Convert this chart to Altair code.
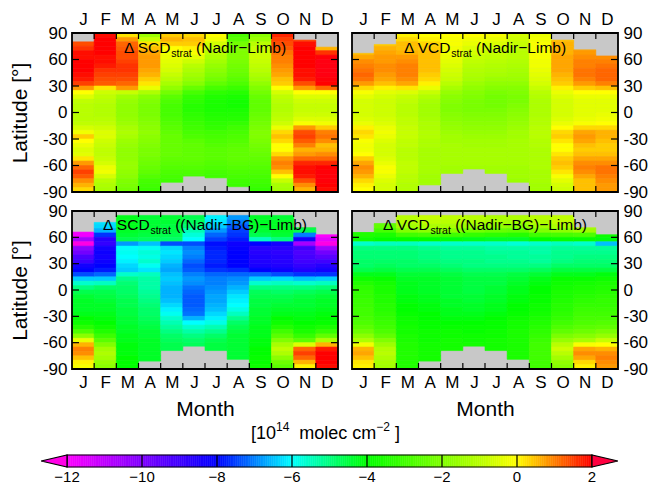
import altair as alt
import numpy as np
import pandas as pd

FONT = "Liberation Sans"
MONTHS = ["J", "F", "M", "A", "M", "J", "J", "A", "S", "O", "N", "D"]
LAT_LABELS = [-90, -60, -30, 0, 30, 60, 90]
LAT_INNER = [-60, -30, 0, 30, 60]
CB_TICKS = [-12, -10, -8, -6, -4, -2, 0, 2]

# colour scale (value -> colour)
COLOR_STOPS = [-12.7, -12, -11, -10, -9, -8, -7, -6, -5, -4, -3, -2, -1, 0, 0.5, 1, 1.5, 2, 2.7]
COLOR_HEX = ["#ff00c0", "#ff00ff", "#c000ff", "#8000ff", "#4000ff", "#0000ff", "#0080ff",
             "#00ffff", "#00ff80", "#00ff00", "#40ff00", "#80ff00", "#b8ff00", "#ffff00",
             "#ffc000", "#ff8000", "#ff4000", "#ff0000", "#ff0040"]

# Each month: 36 values for 5-degree latitude bins, from 90..85 (north) down to -85..-90 (south)
N = None
SCD_NL = [
    [N, N, 1.4, 1.6, 1.9, 1.9, 2.0, 2.0, 2.0, 1.9, 1.8, 1.5, 0.8, 0.0, -0.5, -0.9, -1.0, -1.0,
     -1.0, -1.0, -0.9, -0.6, -0.2, 0.4, 0.0, -0.3, -0.5, -0.4, 0.2, 0.8, 1.2, 1.5, 1.3, 0.9, 0.6, 0.3],
    [1.9, 2.0, 2.0, 2.0, 2.0, 1.9, 1.9, 1.8, 1.6, 1.5, 1.4, 1.3, 0.2, -0.7, -0.9, -1.0, -1.1, -1.1,
     -1.1, -1.0, -0.9, -0.7, -0.5, -0.5, -0.7, -0.8, -0.9, -0.9, -0.8, -0.6, -0.3, -0.2, -0.6, -1.0, -1.2, -1.3],
    [0.2, 0.8, 1.2, 1.3, 1.4, 1.4, 1.5, 1.6, 1.6, 1.5, 1.4, 1.2, 0.8, -0.8, -1.4, -1.6, -1.7, -1.7,
     -1.7, -1.6, -1.5, -1.3, -1.2, -1.3, -1.5, -1.6, -1.7, -1.7, -1.7, -1.6, -1.6, -1.7, -1.8, -2.0, -2.1, -2.2],
    [-1.5, -0.8, 0.2, 0.5, 0.7, 0.8, 0.8, 0.8, 0.7, 0.6, 0.4, 0.2, -0.3, -1.2, -1.8, -2.0, -2.1, -2.1,
     -2.1, -2.0, -1.9, -1.8, -1.7, -1.8, -1.9, -2.0, -2.1, -2.1, -2.2, -2.3, -2.4, -2.5, -2.7, -2.9, -3.0, -3.1],
    [0.4, 0.6, 0.4, 0.0, -0.2, -0.3, -0.4, -0.5, -0.6, -0.8, -1.0, -1.3, -1.7, -2.2, -2.6, -2.8, -2.9, -2.9,
     -2.9, -2.8, -2.7, -2.6, -2.5, -2.4, -2.4, -2.4, -2.4, -2.4, -2.5, -2.6, -2.7, -2.8, -2.9, -3.0, N, N],
    [0.3, 0.5, 0.4, 0.1, -0.1, -0.4, -0.7, -1.0, -1.2, -1.4, -1.6, -1.9, -2.4, -2.9, -3.2, -3.3, -3.4, -3.4,
     -3.3, -3.2, -3.1, -3.0, -2.9, -2.8, -2.6, -2.5, -2.5, -2.5, -2.5, -2.6, -2.7, -2.8, -2.9, N, N, N],
    [0.0, -0.2, -0.6, -0.8, -1.0, -1.2, -1.4, -1.6, -1.8, -2.0, -2.2, -2.5, -2.9, -3.3, -3.5, -3.6, -3.6, -3.6,
     -3.5, -3.4, -3.3, -3.2, -3.0, -2.9, -2.8, -2.7, -2.6, -2.6, -2.6, -2.7, -2.8, -2.9, -3.0, N, N, N],
    [-2.8, -2.6, -2.2, -2.0, -2.0, -2.0, -2.1, -2.2, -2.3, -2.4, -2.6, -2.8, -3.1, -3.4, -3.6, -3.7, -3.7, -3.6,
     -3.5, -3.4, -3.2, -3.0, -2.9, -2.8, -2.7, -2.6, -2.5, -2.5, -2.5, -2.6, -2.7, -2.8, -2.9, -3.0, -3.1, N],
    [-1.8, -1.5, -1.0, -0.8, -0.7, -0.7, -0.8, -0.9, -1.0, -1.2, -1.4, -1.7, -2.0, -2.2, -2.4, -2.5, -2.5, -2.5,
     -2.4, -2.3, -2.2, -2.1, -2.0, -2.0, -2.1, -2.2, -2.3, -2.4, -2.5, -2.6, -2.7, -2.8, -2.9, -3.0, -3.1, -3.2],
    [1.7, 1.5, 1.4, 1.3, 1.1, 1.0, 1.0, 0.9, 0.8, 0.7, 0.5, 0.4, 0.0, -0.6, -0.9, -1.0, -1.1, -1.1,
     -1.0, -0.9, -0.7, -0.3, 0.3, 0.5, 0.3, 0.0, 0.0, 0.3, 0.8, 1.0, 0.9, 0.5, 0.0, -0.8, -1.3, -1.4],
    [N, 1.5, 1.9, 2.0, 2.0, 2.0, 2.0, 2.0, 1.9, 1.9, 1.8, 1.4, 0.8, 0.0, -0.5, -0.7, -0.8, -0.8,
     -0.7, -0.5, -0.1, 0.8, 1.4, 1.5, 1.3, 1.0, 0.6, 0.8, 1.2, 1.7, 1.9, 1.9, 1.8, 1.4, 0.9, 0.6],
    [N, N, N, 0.6, 1.6, 2.1, 2.2, 2.2, 2.2, 2.2, 2.1, 2.0, 1.2, 0.0, -0.5, -0.7, -0.8, -0.8,
     -0.7, -0.5, -0.2, 0.4, 1.0, 1.1, 0.9, 0.5, 0.6, 0.9, 1.2, 1.7, 2.0, 2.1, 2.1, 2.1, 2.0, 1.9],
]
SCD_NL_NORTH = [80, 90, 90, 90, 90, 90, 90, 90, 90, 90, 82, 74]
SCD_NL_SOUTH = [-90, -90, -90, -90, -79, -72, -74, -84, -90, -90, -90, -90]

VCD_NL = [
    [N, N, N, N, 0.5, 0.7, 0.9, 1.0, 1.1, 1.2, 1.1, 0.8, 0.3, -0.1, -0.4, -0.6, -0.6, -0.6,
     -0.6, -0.5, -0.3, 0.1, 0.3, 0.2, -0.1, -0.2, -0.2, 0.0, 0.4, 0.7, 0.9, 0.8, 0.6, 0.3, 0.1, 0.0],
    [N, N, 0.4, 0.6, 0.7, 0.8, 0.8, 0.9, 0.9, 0.8, 0.7, 0.5, 0.1, -0.4, -0.6, -0.7, -0.7, -0.7,
     -0.7, -0.6, -0.5, -0.3, -0.2, -0.3, -0.5, -0.6, -0.6, -0.6, -0.5, -0.3, -0.1, -0.1, -0.3, -0.5, -0.6, -0.6],
    [0.1, 0.3, 0.5, 0.5, 0.6, 0.8, 0.9, 1.0, 1.0, 1.0, 0.9, 0.7, 0.2, -0.5, -0.8, -0.9, -1.0, -1.0,
     -1.0, -0.9, -0.9, -0.8, -0.8, -0.8, -0.9, -0.9, -1.0, -1.0, -1.0, -0.9, -0.9, -0.9, -1.0, -1.0, -1.1, -1.1],
    [0.0, 0.1, 0.3, 0.4, 0.5, 0.5, 0.5, 0.5, 0.5, 0.4, 0.3, 0.1, -0.3, -0.8, -1.1, -1.3, -1.4, -1.4,
     -1.4, -1.3, -1.2, -1.2, -1.1, -1.1, -1.2, -1.2, -1.3, -1.3, -1.3, -1.3, -1.3, -1.3, -1.4, -1.4, -1.4, N],
    [0.0, -0.1, -0.1, -0.2, -0.2, -0.3, -0.4, -0.5, -0.6, -0.7, -0.8, -1.0, -1.3, -1.6, -1.8, -1.9, -2.0, -2.0,
     -1.9, -1.8, -1.7, -1.6, -1.5, -1.4, -1.4, -1.3, -1.3, -1.3, -1.3, -1.3, -1.4, -1.4, N, N, N, N],
    [0.0, -0.2, -0.3, -0.5, -0.6, -0.8, -0.9, -1.0, -1.1, -1.2, -1.3, -1.5, -1.7, -1.9, -2.0, -2.1, -2.1, -2.1,
     -2.0, -1.9, -1.8, -1.7, -1.6, -1.5, -1.4, -1.4, -1.3, -1.3, -1.3, -1.3, -1.4, N, N, N, N, N],
    [-0.1, -0.3, -0.5, -0.7, -0.8, -0.9, -1.0, -1.1, -1.2, -1.3, -1.5, -1.7, -1.9, -2.1, -2.2, -2.2, -2.2, -2.1,
     -2.0, -1.9, -1.8, -1.7, -1.6, -1.5, -1.4, -1.4, -1.3, -1.3, -1.3, -1.3, -1.4, -1.4, N, N, N, N],
    [-0.6, -0.7, -0.8, -0.9, -1.0, -1.0, -1.1, -1.2, -1.3, -1.4, -1.5, -1.7, -1.9, -2.0, -2.1, -2.1, -2.0, -1.9,
     -1.8, -1.7, -1.6, -1.5, -1.4, -1.4, -1.3, -1.3, -1.3, -1.3, -1.3, -1.3, -1.4, -1.4, -1.4, -1.5, N, N],
    [-0.3, -0.2, -0.1, -0.1, -0.1, -0.1, -0.2, -0.2, -0.3, -0.4, -0.5, -0.6, -0.8, -1.0, -1.1, -1.2, -1.2, -1.2,
     -1.2, -1.1, -1.1, -1.0, -1.0, -1.0, -1.1, -1.1, -1.2, -1.2, -1.2, -1.2, -1.2, -1.3, -1.3, -1.3, -1.4, -1.4],
    [N, 0.5, 0.6, 0.6, 0.6, 0.7, 0.7, 0.7, 0.7, 0.6, 0.5, 0.4, 0.1, -0.3, -0.5, -0.6, -0.6, -0.6,
     -0.6, -0.5, -0.3, 0.0, 0.3, 0.4, 0.2, 0.0, 0.0, 0.2, 0.4, 0.5, 0.4, 0.2, -0.1, -0.4, -0.6, -0.7],
    [N, N, N, 0.7, 0.8, 0.9, 1.0, 1.0, 1.1, 1.1, 1.0, 0.8, 0.4, 0.0, -0.3, -0.4, -0.4, -0.4,
     -0.4, -0.3, -0.1, 0.3, 0.7, 0.8, 0.7, 0.5, 0.4, 0.5, 0.7, 0.9, 1.0, 0.9, 0.7, 0.5, 0.5, 0.5],
    [N, N, N, N, N, 0.9, 1.0, 1.1, 1.2, 1.2, 1.2, 1.0, 0.5, 0.0, -0.3, -0.4, -0.4, -0.4,
     -0.3, -0.2, 0.0, 0.3, 0.6, 0.6, 0.5, 0.4, 0.4, 0.5, 0.7, 0.9, 1.1, 1.1, 1.0, 0.9, 0.8, 0.8],
]
VCD_NL_NORTH = [67, 77, 90, 90, 90, 90, 90, 90, 90, 82, 71, 64]
VCD_NL_SOUTH = [-90, -90, -90, -82, -69, -64, -69, -79, -90, -90, -90, -90]

SCD_BG = [
    [N, N, N, N, -11.9, -11.8, -10.6, -12.3, -10.2, -9.8, -9.2, -8.9, -8.3, -8.0, -7.4, -6.4, -5.6, -5.0,
     -4.6, -4.4, -4.3, -4.3, -4.3, -4.2, -4.0, -3.8, -3.4, -2.8, -1.8, -0.3, 0.6, 1.0, 0.9, 0.5, 0.1, -0.1],
    [N, N, -6.2, -6.3, -6.6, -7.6, -8.6, -8.8, -8.3, -8.2, -8.3, -8.2, -8.0, -7.8, -7.2, -6.4, -5.5, -4.8,
     -4.6, -4.5, -4.4, -4.3, -4.3, -4.2, -4.1, -4.0, -3.8, -3.5, -3.1, -2.6, -2.0, -1.4, -1.2, -1.4, -1.6, -1.8],
    [N, -4.2, -4.2, -4.2, -4.3, -4.4, -4.6, -6.8, -6.0, -5.9, -6.0, -6.1, -6.3, -6.4, -5.6, -5.1, -4.9, -4.8,
     -4.8, -4.7, -4.6, -4.6, -4.5, -4.5, -4.4, -4.4, -4.3, -4.3, -4.2, -4.2, -4.1, -4.1, -4.1, -4.0, -4.0, -4.0],
    [N, -4.4, -4.4, -4.4, -4.4, -4.5, -4.7, -6.5, -5.9, -5.7, -5.8, -5.6, -5.9, -6.2, -5.5, -5.3, -5.3, -5.3,
     -5.2, -5.1, -5.0, -4.9, -4.8, -4.8, -4.7, -4.6, -4.5, -4.4, -4.4, -4.3, -4.3, -4.3, -4.3, -4.3, -4.3, N],
    [N, -4.4, -4.4, -4.5, -4.5, -4.6, -4.8, -7.4, -6.3, -6.2, -6.3, -6.4, -6.6, -6.7, -6.5, -6.4, -6.5, -6.6,
     -6.6, -6.6, -6.5, -6.3, -6.1, -5.9, -5.6, -5.4, -5.2, -5.0, -4.8, -4.7, -4.6, -4.6, N, N, N, N],
    [N, -4.6, -4.7, -4.9, -5.4, -5.7, -6.0, -7.4, -7.0, -6.9, -7.0, -7.2, -7.4, -7.3, -7.0, -6.8, -6.9, -7.1,
     -7.2, -7.3, -7.3, -7.3, -7.2, -7.1, -6.6, -6.0, -5.6, -5.3, -5.0, -4.8, -4.7, N, N, N, N, N],
    [N, -6.1, -6.2, -6.4, -6.8, -7.2, -7.5, -7.9, -7.8, -7.7, -7.7, -7.7, -7.8, -7.6, -7.2, -7.0, -7.0, -6.9,
     -6.8, -6.7, -6.7, -6.6, -6.5, -6.3, -6.1, -5.8, -5.4, -5.1, -4.8, -4.6, -4.5, -4.5, N, N, N, N],
    [N, -6.8, -7.0, -7.3, -7.5, -7.6, -7.8, -8.2, -8.1, -8.0, -8.0, -8.0, -8.0, -7.7, -7.2, -6.9, -6.8, -6.6,
     -6.4, -6.2, -6.1, -6.0, -5.8, -5.5, -5.1, -4.8, -4.6, -4.5, -4.4, -4.4, -4.4, -4.4, -4.4, -4.4, N, N],
    [N, -4.3, -4.3, -4.3, -4.4, -4.6, -5.5, -8.0, -8.6, -8.6, -8.5, -8.5, -8.4, -8.0, -7.2, -6.4, -5.6, -5.0,
     -4.7, -4.6, -4.5, -4.5, -4.4, -4.4, -4.3, -4.3, -4.2, -4.2, -4.2, -4.1, -4.1, -4.0, -4.0, -3.9, -3.9, -3.8],
    [N, -4.4, -4.3, -4.3, -4.3, -4.4, -5.0, -8.3, -8.6, -8.7, -8.6, -8.6, -8.5, -8.2, -7.4, -6.3, -5.5, -5.0,
     -4.8, -4.6, -4.5, -4.4, -4.3, -4.2, -4.0, -3.8, -3.5, -3.0, -2.6, -2.0, -1.3, -0.9, -1.2, -1.8, -2.3, -2.6],
    [N, N, N, -4.3, -4.6, -7.0, -8.3, -10.6, -9.0, -9.2, -9.1, -9.0, -8.8, -8.5, -7.6, -6.5, -5.6, -5.0,
     -4.7, -4.5, -4.4, -4.4, -4.3, -4.2, -4.1, -4.0, -3.8, -3.6, -3.2, -2.6, -0.5, 1.2, 1.5, 1.2, 0.6, 0.1],
    [N, N, N, N, N, -12.0, -11.6, -12.3, -10.5, -9.8, -9.4, -9.0, -8.6, -8.3, -7.6, -6.4, -5.5, -4.9,
     -4.6, -4.4, -4.3, -4.3, -4.2, -4.1, -4.0, -3.9, -3.6, -3.2, -2.5, -1.2, 0.6, 1.8, 2.0, 2.0, 2.0, 1.9],
]
SCD_BG_NORTH = [66, 77, 85, 85, 85, 85, 85, 85, 85, 85, 71, 63]
SCD_BG_SOUTH = [-90, -90, -90, -81, -69, -64, -69, -79, -90, -90, -90, -90]

VCD_BG = [
    [N, N, N, N, -3.5, -3.5, -3.8, -5.6, -5.0, -4.9, -4.9, -4.8, -4.8, -4.6, -4.2, -3.8, -3.5, -3.3,
     -3.2, -3.2, -3.1, -3.1, -3.0, -3.0, -2.9, -2.8, -2.6, -2.3, -1.8, -1.2, -0.2, 0.6, 0.7, 0.5, 0.2, 0.1],
    [N, N, -2.5, -2.5, -2.9, -3.6, -4.0, -5.5, -5.0, -4.9, -4.9, -4.8, -4.7, -4.5, -4.2, -3.9, -3.7, -3.6,
     -3.6, -3.5, -3.5, -3.4, -3.4, -3.3, -3.2, -3.1, -3.0, -2.8, -2.5, -2.0, -1.5, -1.1, -1.0, -1.2, -1.3, -1.4],
    [N, -1.0, -1.1, -1.4, -2.0, -3.0, -4.0, -5.5, -5.0, -4.9, -4.9, -4.8, -4.8, -4.6, -4.4, -4.3, -4.2, -4.2,
     -4.2, -4.1, -4.1, -4.0, -4.0, -3.9, -3.8, -3.8, -3.7, -3.7, -3.6, -3.6, -3.5, -3.5, -3.5, -3.5, -3.5, -3.5],
    [N, -0.8, -0.9, -1.2, -1.8, -2.9, -4.0, -5.6, -5.1, -5.0, -5.0, -4.9, -4.8, -4.6, -4.4, -4.3, -4.3, -4.3,
     -4.3, -4.2, -4.2, -4.1, -4.1, -4.0, -4.0, -3.9, -3.9, -3.8, -3.8, -3.8, -3.7, -3.7, -3.7, -3.7, -3.7, N],
    [N, -0.9, -1.0, -1.3, -1.9, -3.0, -4.1, -5.6, -5.2, -5.1, -5.1, -5.0, -4.9, -4.7, -4.5, -4.4, -4.4, -4.4,
     -4.4, -4.4, -4.3, -4.3, -4.2, -4.2, -4.1, -4.0, -3.9, -3.8, -3.8, -3.7, -3.7, -3.7, N, N, N, N],
    [N, -1.0, -1.1, -1.5, -2.2, -3.2, -4.2, -5.6, -5.2, -5.1, -5.1, -5.0, -5.0, -4.8, -4.6, -4.5, -4.5, -4.5,
     -4.5, -4.4, -4.4, -4.3, -4.3, -4.2, -4.1, -4.0, -3.9, -3.9, -3.8, -3.8, -3.7, N, N, N, N, N],
    [N, -1.2, -1.3, -1.7, -2.4, -3.3, -4.3, -5.6, -5.3, -5.2, -5.1, -5.1, -5.0, -4.8, -4.6, -4.5, -4.5, -4.4,
     -4.4, -4.3, -4.3, -4.2, -4.2, -4.1, -4.0, -3.9, -3.9, -3.8, -3.8, -3.7, -3.7, -3.7, N, N, N, N],
    [N, -1.2, -1.4, -1.8, -2.5, -3.4, -4.3, -5.7, -5.3, -5.2, -5.2, -5.1, -5.0, -4.8, -4.5, -4.4, -4.3, -4.2,
     -4.2, -4.1, -4.1, -4.0, -4.0, -3.9, -3.8, -3.7, -3.7, -3.6, -3.6, -3.6, -3.6, -3.6, -3.6, -3.6, N, N],
    [N, -1.0, -1.1, -1.4, -2.0, -3.0, -4.0, -5.6, -5.3, -5.3, -5.2, -5.2, -5.0, -4.7, -4.4, -4.2, -4.1, -4.0,
     -4.0, -3.9, -3.9, -3.8, -3.8, -3.7, -3.6, -3.5, -3.4, -3.3, -3.2, -3.1, -3.0, -3.0, -3.0, -3.0, -3.0, -3.0],
    [N, -0.9, -0.9, -1.2, -1.8, -2.9, -3.9, -5.5, -5.2, -5.1, -5.1, -5.0, -4.8, -4.5, -4.2, -3.9, -3.8, -3.7,
     -3.6, -3.6, -3.5, -3.4, -3.4, -3.3, -3.2, -3.0, -2.8, -2.5, -2.1, -1.6, -1.0, -0.7, -1.0, -1.4, -1.7, -1.9],
    [N, N, N, -1.2, -1.5, -2.8, -3.9, -5.6, -5.2, -5.1, -5.0, -4.9, -4.8, -4.5, -4.2, -3.9, -3.7, -3.6,
     -3.5, -3.4, -3.3, -3.2, -3.1, -3.0, -2.9, -2.8, -2.6, -2.3, -1.9, -1.3, -0.1, 0.7, 0.9, 0.7, 0.3, 0.1],
    [N, N, N, N, N, -3.8, -4.1, -6.5, -5.2, -5.1, -5.0, -4.9, -4.8, -4.5, -4.1, -3.8, -3.6, -3.5,
     -3.4, -3.3, -3.2, -3.2, -3.1, -3.0, -2.9, -2.7, -2.5, -2.1, -1.6, -0.8, 0.0, 0.6, 0.9, 1.0, 0.9, 0.8],
]
VCD_BG_NORTH = [65.5, 75.6, 85, 85, 85, 85, 85, 85, 85, 85, 71, 63]
VCD_BG_SOUTH = [-90, -90, -90, -81, -69, -64, -69, -79, -90, -90, -90, -90]

# ---------------------------------------------------------------- layout
W = 266
H_TOP = 159
H_BOT = 158
GRAY = "#c8c8c8"

ARIAL = {' ': 278, '(': 333, ')': 333, 'N': 722, 'a': 556, 'd': 556, 'i': 222, 'r': 333, 'L': 556,
         'm': 833, 'b': 556, 'B': 667, 'G': 778, 'S': 667, 'C': 722, 'D': 722, 'V': 667, 's': 500,
         't': 278, '−': 584, 'Δ': 668, '[': 278, ']': 278, 'o': 556, 'l': 222, 'e': 556, 'c': 500}


def tw(s, fs):
    return sum(ARIAL.get(ch, 556) for ch in s) * fs / 1000.0


ONE = pd.DataFrame({"k": [0]})
COLOR_SCALE = alt.Scale(domain=COLOR_STOPS, range=COLOR_HEX, clamp=True, nice=False, zero=False,
                        interpolate="rgb")


def build_df(vals, north, south):
    rows = []
    for m in range(12):
        col = vals[m]
        assert len(col) == 36, (m, len(col))
        for i, v in enumerate(col):
            if v is None:
                continue
            hi = min(90 - 5 * i, north[m])
            lo = max(85 - 5 * i, south[m])
            if hi <= lo:
                continue
            rows.append({"m0": m, "m1": m + 1, "lo": lo, "hi": hi, "v": v})
    return pd.DataFrame(rows)


def text_parts(parts, base_x, yb):
    """parts: list of (text, fontsize, dy), placed left to right from base_x."""
    layers = []
    x = base_x
    for t, fs, dy in parts:
        lead = len(t) - len(t.lstrip(" "))
        x += tw(" " * lead, fs)
        core = t.strip(" ")
        if core:
            layers.append(alt.Chart(ONE).mark_text(text=core, align="left", baseline="alphabetic",
                                                   font=FONT, fontSize=fs, color="black")
                          .encode(x=alt.value(x), y=alt.value(yb + dy)))
        x += tw(t.lstrip(" "), fs)
    return layers


def centered_parts(parts, cx, yb):
    total = sum(tw(t, fs) for t, fs, _ in parts)
    return text_parts(parts, cx - total / 2.0, yb)


def panel(vals, north, south, main, rest, top, left, H):
    df = build_df(vals, north, south)
    xs = alt.Scale(domain=[0, 12], nice=False, zero=False)
    ys = alt.Scale(domain=[-90, 90], nice=False, zero=False)
    x_axis = alt.Axis(orient="top" if top else "bottom",
                      values=[i + 0.5 for i in range(12)],
                      labelExpr="%s[floor(datum.value)]" % str(MONTHS),
                      ticks=False, domain=False, grid=False, labelAngle=0,
                      labelPadding=5, title=None if top else "Month", titlePadding=8)
    y_axis = alt.Axis(orient="left" if left else "right", values=LAT_LABELS,
                      labelExpr="'' + datum.value", ticks=False, domain=False, grid=False,
                      labelPadding=5, title="Latitude [°]" if left else None, titlePadding=12)
    bg = alt.Chart(ONE).mark_rect(color=GRAY).encode(
        x=alt.value(0), x2=alt.value(W), y=alt.value(0), y2=alt.value(H))
    heat = alt.Chart(df).mark_rect(strokeWidth=0.6).encode(
        x=alt.X("m0:Q", scale=xs, axis=x_axis), x2="m1:Q",
        y=alt.Y("lo:Q", scale=ys, axis=y_axis), y2="hi:Q",
        color=alt.Color("v:Q", scale=COLOR_SCALE, legend=None),
        stroke=alt.Stroke("v:Q", scale=COLOR_SCALE, legend=None))
    mb = pd.DataFrame({"b": list(range(1, 12))})
    lt = pd.DataFrame({"t": LAT_INNER})
    tk = dict(color="black", strokeWidth=1.2)
    t1 = alt.Chart(mb).mark_rule(**tk).encode(x=alt.X("b:Q", scale=xs, axis=x_axis),
                                              y=alt.value(0), y2=alt.value(6))
    t2 = alt.Chart(mb).mark_rule(**tk).encode(x=alt.X("b:Q", scale=xs, axis=x_axis),
                                              y=alt.value(H - 6), y2=alt.value(H))
    t3 = alt.Chart(lt).mark_rule(**tk).encode(y=alt.Y("t:Q", scale=ys, axis=y_axis),
                                              x=alt.value(0), x2=alt.value(7))
    t4 = alt.Chart(lt).mark_rule(**tk).encode(y=alt.Y("t:Q", scale=ys, axis=y_axis),
                                              x=alt.value(W - 7), x2=alt.value(W))
    frame = alt.Chart(ONE).mark_rect(fillOpacity=0, stroke="black", strokeWidth=1.8).encode(
        x=alt.value(0), x2=alt.value(W), y=alt.value(0), y2=alt.value(H))
    yb = 20 if top else 19
    titles = centered_parts([(main, 15.5, 0), ("strat", 10.5, 4), (rest, 15.5, 0)], W / 2.0, yb)
    return alt.layer(bg, heat, t1, t2, t3, t4, frame, *titles).properties(width=W, height=H)


def colorbar(x0, x1, ytop, ybot):
    cs = alt.Scale(domain=[CB_TICKS[0], CB_TICKS[-1]], range=[x0, x1], nice=False, zero=False)
    ay = alt.Scale(domain=[0, 1], range=[ybot, ytop], nice=False, zero=False)
    edges = np.round(np.arange(CB_TICKS[0], CB_TICKS[-1] + 1e-9, 0.05), 3)
    grad = pd.DataFrame({"a": edges[:-1], "b": edges[1:], "v": (edges[:-1] + edges[1:]) / 2})
    rects = alt.Chart(grad).mark_rect(strokeWidth=0.5).encode(
        x=alt.X("a:Q", scale=cs, axis=None), x2="b:Q", y=alt.value(ytop), y2=alt.value(ybot),
        color=alt.Color("v:Q", scale=COLOR_SCALE, legend=None),
        stroke=alt.Stroke("v:Q", scale=COLOR_SCALE, legend=None))
    divs = alt.Chart(pd.DataFrame({"d": CB_TICKS[1:-1]})).mark_rule(color="black", strokeWidth=1.2).encode(
        x=alt.X("d:Q", scale=cs, axis=None), y=alt.value(ytop), y2=alt.value(ybot))
    outline = alt.Chart(pd.DataFrame({"a": [CB_TICKS[0]], "b": [CB_TICKS[-1]]})).mark_rect(
        fillOpacity=0, stroke="black", strokeWidth=1.2).encode(
        x=alt.X("a:Q", scale=cs, axis=None), x2="b:Q", y=alt.value(ytop), y2=alt.value(ybot))
    alen = 0.69
    left_arrow = pd.DataFrame({"x": [CB_TICKS[0] - alen, CB_TICKS[0]], "y0": [0.5, 0.0], "y1": [0.5, 1.0]})
    right_arrow = pd.DataFrame({"x": [CB_TICKS[-1], CB_TICKS[-1] + alen], "y0": [0.0, 0.5], "y1": [1.0, 0.5]})
    al = alt.Chart(left_arrow).mark_area(color="#ff00e6", stroke="black", strokeWidth=1.2).encode(
        x=alt.X("x:Q", scale=cs, axis=None), y=alt.Y("y0:Q", scale=ay, axis=None), y2="y1:Q")
    ar = alt.Chart(right_arrow).mark_area(color="#ff0040", stroke="black", strokeWidth=1.2).encode(
        x=alt.X("x:Q", scale=cs, axis=None), y=alt.Y("y0:Q", scale=ay, axis=None), y2="y1:Q")
    lab = pd.DataFrame({"t": CB_TICKS,
                        "s": [("−%d" % -t) if t < 0 else "%d" % t for t in CB_TICKS]})
    labels = alt.Chart(lab).mark_text(font=FONT, fontSize=15, color="black", baseline="middle").encode(
        x=alt.X("t:Q", scale=cs, axis=None), y=alt.value(ybot + 10), text="s:N")
    cx = (x0 + x1) / 2.0 - 4
    title = centered_parts([("[10", 18, 0), ("14", 12, -8), ("  molec cm", 18, 0),
                            ("−2", 12, -8), (" ]", 18, 0)], cx, ytop - 16)
    return alt.layer(rects, divs, outline, al, ar, labels, *title)


p1 = panel(SCD_NL, SCD_NL_NORTH, SCD_NL_SOUTH, "Δ SCD", " (Nadir−Limb)", True, True, H_TOP)
p2 = panel(VCD_NL, VCD_NL_NORTH, VCD_NL_SOUTH, "Δ VCD", " (Nadir−Limb)", True, False, H_TOP)
p3_core = panel(SCD_BG, SCD_BG_NORTH, SCD_BG_SOUTH, "Δ SCD", " ((Nadir−BG)−Limb)", False, True, H_BOT)
p4 = panel(VCD_BG, VCD_BG_NORTH, VCD_BG_SOUTH, "Δ VCD", " ((Nadir−BG)−Limb)", False, False, H_BOT)

# colour bar positioned relative to the lower-left panel (origin at 72, 211)
cb = colorbar(67 - 72, 592 - 72, 455 - 211, 467 - 211)
p3 = alt.layer(p3_core, cb).resolve_scale(x="independent", y="independent").properties(width=W, height=H_BOT)

chart = alt.concat(p1, p2, p3, p4, columns=2, spacing={"row": 19, "column": 14}, bounds="flush").properties(
    autosize=alt.AutoSizeParams(type="none"),
    padding={"left": 72, "top": 33, "right": 578, "bottom": 457},
    background="white",
).configure_view(stroke=None).configure_axis(
    labelFont=FONT, labelFontSize=17, labelColor="black",
    titleFont=FONT, titleFontSize=21, titleFontWeight="normal", titleColor="black",
).configure_text(font=FONT)

chart.save("out.html", embed_options={"renderer": "svg", "actions": False})
